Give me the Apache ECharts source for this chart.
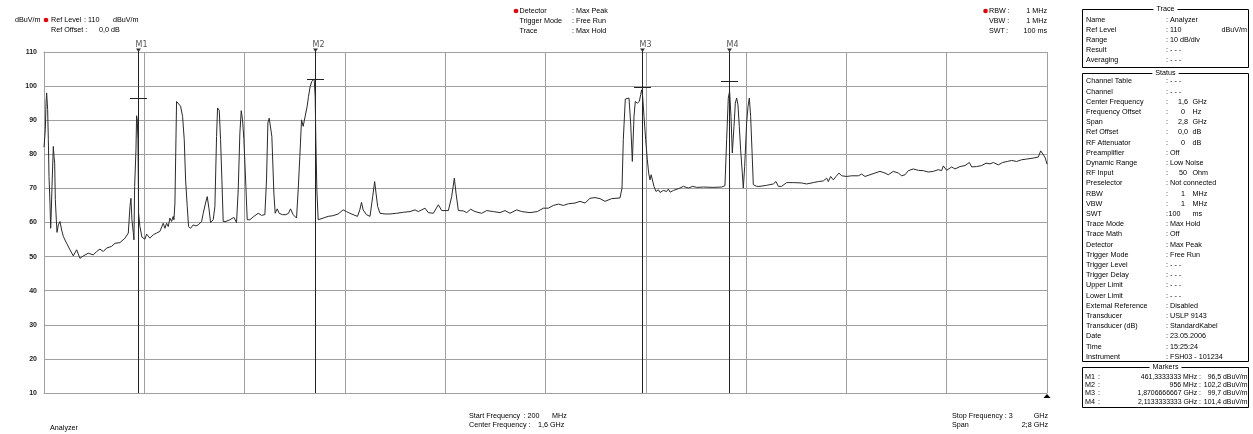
<!DOCTYPE html>
<html>
<head>
<meta charset="utf-8">
<script src="https://cdn.jsdelivr.net/npm/echarts@6/dist/echarts.min.js"></script>
<style>html,body{margin:0;padding:0;background:#fff}#c{width:1253px;height:434px}</style>
</head>
<body>
<div id="c"></div>
<script>
// ---- data ----
const freqMHz = [200,203.7,205.6,207.4,210.2,212.1,214,216.7,218.6,220.5,222.3,226,228,229.8,231.6,234.4,236.3,240,244.6,249.3,254,263.2,272.5,281.8,291.1,300.4,309.7,323.7,337.6,346.9,356.2,365.5,374.8,388.8,398.1,412,426,435.3,440,442.7,445.5,449.2,451.1,453,456.7,458.5,460.4,462.3,464.1,467.8,473.4,481.8,486.4,495.7,505,514.3,523.6,532.9,537.6,542.2,546.9,551.5,556.2,560.8,562.7,565.5,570.1,574.8,581.3,586.9,591.5,595.3,599.9,603.6,609.2,616.6,624.1,630.6,639.9,644.5,651,655.7,660.4,665,672.4,677.1,681.7,684.5,689.2,692.9,696.6,700.3,707.8,718.9,730.1,737.5,742.2,746.8,750.6,754.3,758,763.6,767.3,774.7,785.9,798,807.3,816.6,821.2,825,828.7,832.4,836.1,841.7,845.4,851,856.6,865.9,875.2,882.6,888.2,895.6,905,909.6,914.2,918.9,923.5,927.3,934.7,938.4,943.1,947.7,951.4,954.2,957,958.9,961.7,965.4,970,979.3,993.3,1007.2,1021.2,1035.1,1044.4,1053.7,1067.7,1075.1,1081.6,1086.3,1091,1100.2,1110.1,1117.6,1123.1,1126.9,1131.5,1138,1152,1166,1184.6,1203.2,1221.8,1235.7,1245,1263.6,1273,1286.9,1300.9,1310.2,1328.8,1338.1,1345.5,1350.2,1356.7,1370.7,1380,1391.1,1403.2,1421.8,1435.8,1454.4,1473,1487,1500.9,1519.5,1533.5,1556.7,1577.2,1594,1607.9,1621.9,1635.8,1649.8,1663.8,1682.4,1696.3,1710.3,1724.2,1738.2,1752.2,1766.1,1784.7,1808,1813.6,1817.2,1822.8,1833.1,1837.7,1842.4,1847,1850.7,1856.3,1862,1865.6,1868.4,1871.2,1875,1879.6,1884.3,1888,1891.7,1895,1898,1902.8,1908.4,1915,1919.6,1929,1938.2,1943,1948,1957,1975.4,1985,1999,2011,2022,2041,2068,2091.7,2101,2105.7,2110.3,2114,2117.8,2121.5,2126.2,2129.9,2133.6,2137.3,2141,2144.8,2149.4,2152.2,2156,2161.5,2165.3,2169,2172.7,2176.4,2180.1,2189.4,2198.8,2217,2236,2243.5,2250,2259,2273.2,2292,2315,2329,2347.7,2361.6,2375.6,2384.9,2389.6,2396,2403.5,2411,2419.3,2426.8,2440.7,2454.7,2473.3,2482.6,2491.9,2505.9,2519.8,2533.8,2547.7,2557,2571,2585,2594.3,2603.6,2612.9,2626.8,2640.8,2654.8,2668.7,2682.7,2696.6,2705.9,2710.6,2719.9,2733.9,2743.2,2757.1,2771.1,2783.2,2789.7,2803.6,2817.6,2829.7,2840.8,2850.2,2864.1,2876.2,2889.2,2901.3,2915.3,2929.2,2943.2,2961.8,2975.8,2982.3,2989.7,2995.3,3000];
const levelDbuV = [82.1,87.2,95.0,98.0,93.1,84.3,73.5,65.7,58.3,63.7,70.6,82.3,79.4,77.4,66.7,60.8,57.1,59.3,60.3,57.8,55.9,53.9,52.0,50.2,52.0,49.5,50.2,51.0,50.5,51.5,52.2,51.5,52.5,53.0,53.9,54.1,55.4,56.9,64.7,67.1,60.8,57.1,54.9,70.6,81.3,91.3,90.1,84.3,62.7,58.8,55.7,55.1,56.6,55.4,56.4,56.9,57.4,59.8,58.3,59.8,58.8,61.3,60.3,61.8,60.8,65.7,95.5,95.0,94.1,91.1,84.3,72.5,64.7,58.8,58.3,59.3,59.0,59.3,60.3,62.7,65.7,67.6,64.2,60.0,60.8,64.7,85.2,93.6,92.9,84.3,72.5,60.3,60.3,60.8,61.5,60.0,69.6,86.2,92.8,90.1,84.3,70.6,60.8,60.8,61.8,62.7,62.1,62.3,72.5,89.2,90.6,91.1,85.2,68.6,62.7,64.0,62.7,62.3,62.3,62.7,64.0,62.3,61.3,69.6,79.4,90.1,88.2,87.7,94.1,97.0,99.9,101.4,101.9,102.1,97.0,84.3,69.6,60.8,61.1,61.3,61.8,62.0,62.5,63.7,63.2,62.7,62.1,61.8,63.7,65.9,63.7,62.3,61.8,67.6,72.0,68.6,64.7,62.7,62.5,62.5,62.7,63.0,63.2,63.7,63.2,64.2,62.9,62.7,65.2,63.5,63.5,67.6,73.0,68.6,63.5,63.4,62.9,63.9,63.2,62.7,63.5,63.2,62.9,63.5,62.7,63.7,63.2,62.9,63.2,64.2,64.2,65.0,65.4,65.0,65.5,65.7,66.2,65.7,67.1,67.3,67.0,66.2,67.0,67.2,70.1,84.3,96.2,96.5,89.2,77.9,91.0,95.5,95.0,95.5,97.5,98.9,97.0,91.1,84.3,78.4,74.5,72.5,74.0,73.5,70.6,69.1,69.6,68.8,69.4,69.1,69.8,68.9,69.4,70.1,70.6,70.1,70.6,70.3,70.4,70.3,70.4,70.8,84.3,96.5,98.5,91.1,80.4,88.2,95.0,96.5,94.5,88.2,81.3,74.5,70.1,76.4,89.2,94.0,96.5,91.1,81.3,71.1,70.6,70.6,70.9,71.3,72.0,70.6,70.6,71.7,71.7,71.6,71.3,71.7,72.0,72.2,73.0,72.0,73.5,72.5,73.5,74.5,73.7,73.5,73.7,73.7,74.2,73.5,74.0,74.5,75.0,74.5,74.0,75.0,74.5,73.7,74.0,75.2,75.7,75.3,75.2,74.8,75.0,75.5,75.2,76.6,75.3,76.3,75.7,76.4,76.7,77.6,76.3,76.4,76.7,77.4,77.2,77.6,76.9,77.6,77.9,78.2,77.9,78.4,78.6,78.9,79.2,81.0,79.9,78.9,77.1];

const markerNames = ['M1','M2','M3','M4'];
const markerFreqMHz = [461.3333333, 956, 1870.6666667, 2113.3333333];
const markerLevel = [96.5, 102.2, 99.7, 101.4];
const markerFreqText = ['461,3333333 MHz :', '956 MHz :', '1,8706666667 GHz :', '2,1133333333 GHz :'];
const markerLevelText = ['96,5 dBuV/m', '102,2 dBuV/m', '99,7 dBuV/m', '101,4 dBuV/m'];

const traceLabels = ['Name','Ref Level','Range','Result','Averaging'];
const traceValues = [': Analyzer', ': 110', ': 10 dB/div', ': - - -', ': - - -'];

const statusLabels = ['Channel Table','Channel','Center Frequency','Frequency Offset','Span','Ref Offset','RF Attenuator','Preamplifier','Dynamic Range','RF Input','Preselector','RBW','VBW','SWT','Trace Mode','Trace Math','Detector','Trigger Mode','Trigger Level','Trigger Delay','Upper Limit','Lower Limit','External Reference','Transducer','Transducer (dB)','Date','Time','Instrument'];
const statusValues = ['- - -','- - -','1,6','0','2,8','0,0','0','Off','Low Noise','50','Not connected','1','1','100','Max Hold','Off','Max Peak','Free Run','- - -','- - -','- - -','- - -','Disabled','USLP 9143','StandardKabel','23.05.2006','15:25:24','FSH03 - 101234'];
const statusUnits = ['','','GHz','Hz','GHz','dB','dB','','','Ohm','','MHz','MHz','ms','','','','','','','','','','','','','',''];

// ---- chart ----
const FONT = '7.2px "Liberation Sans", Arial, sans-serif';
const FONT_SMALL = '6.9px "Liberation Sans", Arial, sans-serif';
function T(x, y, text, align, extra) {
  const st = Object.assign({text: text, x: x, y: y, fill: '#000', font: FONT,
    align: align || 'left', verticalAlign: 'middle',
    textAlign: align || 'left', textVerticalAlign: 'middle'}, extra || {});
  return {type: 'text', z: 10, silent: true, style: st};
}
const g = [];
// header left
g.push(T(15, 20, 'dBuV/m'));
g.push({type: 'circle', z: 10, shape: {cx: 46, cy: 20, r: 2.3}, style: {fill: '#ee0000'}});
g.push(T(51, 20, 'Ref Level'), T(84, 20, ': 110'), T(113, 20, 'dBuV/m'));
g.push(T(51, 30, 'Ref Offset :'), T(99, 30, '0,0 dB'));
// header middle
g.push({type: 'circle', z: 10, shape: {cx: 516, cy: 11, r: 2.3}, style: {fill: '#ee0000'}});
g.push(T(519.5, 11, 'Detector'), T(572, 11, ': Max Peak'));
g.push(T(519.5, 21, 'Trigger Mode'), T(572, 21, ': Free Run'));
g.push(T(519.5, 31, 'Trace'), T(572, 31, ': Max Hold'));
// header right
g.push({type: 'circle', z: 10, shape: {cx: 985.5, cy: 11, r: 2.3}, style: {fill: '#ee0000'}});
g.push(T(989, 11, 'RBW :'), T(1047, 11, '1 MHz', 'right'));
g.push(T(989, 21, 'VBW :'), T(1047, 21, '1 MHz', 'right'));
g.push(T(989, 31, 'SWT'), T(1006, 31, ':'), T(1047, 31, '100 ms', 'right'));
// bottom
g.push(T(50, 428, 'Analyzer'));
g.push(T(469, 416, 'Start Frequency'), T(523.5, 416, ': 200'), T(552, 416, 'MHz'));
g.push(T(469, 425, 'Center Frequency :'), T(538, 425, '1,6 GHz'));
g.push(T(952, 416, 'Stop Frequency : 3'), T(1048, 416, 'GHz', 'right'));
g.push(T(952, 425, 'Span'), T(1025.5, 425, ':'), T(1048, 425, '2,8 GHz', 'right'));
g.push({type: 'polygon', z: 10, shape: {points: [[1043.5, 398], [1050.5, 398], [1047, 394]]}, style: {fill: '#000'}});

// right panel boxes
function box(y0, y1, title) {
  g.push({type: 'rect', z: 9, shape: {x: 1082.5, y: y0 + 0.5, width: 166, height: y1 - y0}, style: {fill: 'none', stroke: '#000', lineWidth: 1}});
  g.push(T(1165.5, y0 + 0.5, title, 'center', {backgroundColor: '#fff', padding: [0, 3]}));
}
box(9, 67, 'Trace');
traceLabels.forEach((l, i) => {
  const y = 20 + i * 10;
  g.push(T(1086, y, l), T(1166, y, traceValues[i]));
});
g.push(T(1247, 30, 'dBuV/m', 'right'));

box(73, 361, 'Status');
statusLabels.forEach((l, i) => {
  const y = 81.5 + i * 10.2;
  g.push(T(1086, y, l));
  if (statusUnits[i]) {
    g.push(T(1166, y, ':'));
    if (l === 'SWT') g.push(T(1168.5, y, statusValues[i]));
    else g.push(T(1183, y, statusValues[i], 'center'));
    g.push(T(1192.5, y, statusUnits[i]));
  } else {
    g.push(T(1166, y, ': ' + statusValues[i]));
  }
});

box(367, 407, 'Markers');
markerNames.forEach((n, i) => {
  const y = 376.8 + i * 8.3;
  g.push(T(1085, y, n), T(1098, y, ':'));
  g.push(T(1201, y, markerFreqText[i], 'right', {font: FONT_SMALL}));
  g.push(T(1247.5, y, markerLevelText[i], 'right', {font: FONT_SMALL}));
});

const chart = echarts.init(document.getElementById('c'), null, {renderer: 'canvas'});
const GRID = '#a0a0a0';
chart.setOption({
  animation: false,
  backgroundColor: '#fff',
  grid: {left: 44, right: 206, top: 52, bottom: 41, containLabel: false},
  xAxis: [
    {type: 'value', min: 200, max: 3000, position: 'bottom',
     axisLine: {show: true, onZero: false, lineStyle: {color: GRID, width: 1}},
     axisTick: {show: false}, axisLabel: {show: false}, splitLine: {show: false}},
    {type: 'value', min: 0, max: 10, interval: 1, position: 'top',
     axisLine: {show: true, onZero: false, lineStyle: {color: GRID, width: 1}},
     axisTick: {show: false}, axisLabel: {show: false},
     splitLine: {show: true, lineStyle: {color: GRID, width: 1}}}
  ],
  yAxis: [{type: 'value', min: 10, max: 110, interval: 10,
    axisLine: {show: true, onZero: false, lineStyle: {color: GRID, width: 1}},
    axisTick: {show: false},
    axisLabel: {show: true, margin: 7, fontSize: 7, fontWeight: 'bold', color: '#222', fontFamily: 'Liberation Sans'},
    splitLine: {show: true, lineStyle: {color: GRID, width: 1}}}],
  series: [
    {type: 'custom', xAxisIndex: 0, yAxisIndex: 0, clip: false, z: 3,
     data: markerNames.map((n, i) => [markerFreqMHz[i], markerLevel[i], n]),
     encode: {x: 0, y: 1},
     renderItem: function (params, api) {
       const p = api.coord([api.value(0), api.value(1)]);
       const cs = params.coordSys;
       const x = Math.round(p[0]) + 0.5;
       const top = cs.y, bot = cs.y + cs.height;
       const name = markerNames[params.dataIndex];
       return {type: 'group', children: [
         {type: 'line', shape: {x1: x, y1: top - 3, x2: x, y2: bot}, style: {stroke: '#222', lineWidth: 1}},
         {type: 'line', shape: {x1: x - 8.5, y1: Math.round(p[1]) + 0.5, x2: x + 8.5, y2: Math.round(p[1]) + 0.5}, style: {stroke: '#222', lineWidth: 1}},
         {type: 'polygon', shape: {points: [[x - 2.5, top - 3.5], [x + 2.5, top - 3.5], [x, top]]}, style: {fill: '#333'}},
         {type: 'text', style: {text: name, x: x - 3, y: top - 7.5, fill: '#555', font: '8px "DejaVu Sans", sans-serif',
           align: 'left', verticalAlign: 'middle', textAlign: 'left', textVerticalAlign: 'middle'}}
       ]};
     }},
    {type: 'line', xAxisIndex: 0, yAxisIndex: 0, z: 4,
     data: freqMHz.map((f, i) => [f, levelDbuV[i]]),
     showSymbol: false, symbol: 'none',
     lineStyle: {color: '#2a2a2a', width: 1}}
  ],
  graphic: {elements: g}
});
</script>
</body>
</html>
